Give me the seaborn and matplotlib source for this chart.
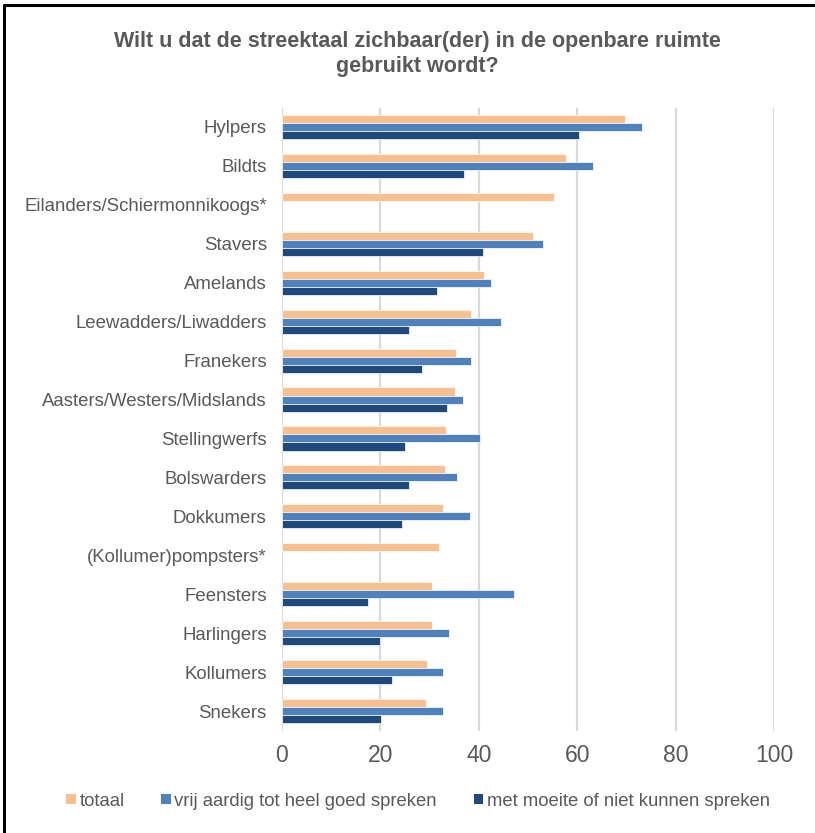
import numpy as np
import pandas as pd
import matplotlib
matplotlib.use("Agg")
import matplotlib.pyplot as plt
from matplotlib.lines import Line2D
from matplotlib.patches import Patch
import seaborn as sns

categories = [
    "Hylpers", "Bildts", "Eilanders/Schiermonnikoogs*", "Stavers", "Amelands",
    "Leewadders/Liwadders", "Franekers", "Aasters/Westers/Midslands",
    "Stellingwerfs", "Bolswarders", "Dokkumers", "(Kollumer)pompsters*",
    "Feensters", "Harlingers", "Kollumers", "Snekers",
]
totaal = [69.8, 57.7, 55.3, 51.0, 41.0, 38.4, 35.4, 35.1, 33.3, 33.1, 32.8, 32.0, 30.5, 30.4, 29.4, 29.2]
goed_spreken = [73.1, 63.3, np.nan, 53.0, 42.5, 44.6, 38.5, 36.7, 40.2, 35.5, 38.3, np.nan, 47.2, 33.9, 32.8, 32.7]
moeite_spreken = [60.4, 36.9, np.nan, 40.9, 31.6, 25.8, 28.5, 33.6, 25.0, 25.9, 24.4, np.nan, 17.4, 20.0, 22.3, 20.1]

series_names = ["totaal", "vrij aardig tot heel goed spreken", "met moeite of niet kunnen spreken"]
series_colors = ["#F9C08F", "#4F81BD", "#1F497D"]
x_ticks = [0, 20, 40, 60, 80, 100]
title = "Wilt u dat de streektaal zichbaar(der) in de openbare ruimte\ngebruikt wordt?"

frames = []
for name, vals in zip(series_names, [totaal, goed_spreken, moeite_spreken]):
    frames.append(pd.DataFrame({"streektaal": categories, "reeks": name, "waarde": vals}))
df = pd.concat(frames, ignore_index=True).dropna()

sns.set_theme(style="white")
plt.rcParams["font.family"] = ["Liberation Sans", "DejaVu Sans"]
text_color = "#595959"

fig = plt.figure(figsize=(8.15, 8.33), dpi=100)
ax = fig.add_axes([282 / 815, 1 - 730.5 / 833, (774 - 282) / 815, (730.5 - 107.5) / 833])

sns.barplot(
    data=df, y="streektaal", x="waarde", hue="reeks",
    order=categories, hue_order=series_names, palette=series_colors,
    orient="h", width=0.62, dodge=True, saturation=1.0,
    edgecolor="white", linewidth=0.5, ax=ax, legend=False,
)

ax.set_xlim(0, 100)
ax.set_ylim(len(categories) - 0.5, -0.5)
ax.set_xticks(x_ticks)
ax.set_xticklabels([str(t) for t in x_ticks])
ax.set_xlabel("")
ax.set_ylabel("")
for s in ax.spines.values():
    s.set_visible(False)
ax.grid(False)
for t in x_ticks:
    ax.axvline(t, color="#D9D9D9", lw=1.6, zorder=0)
ax.set_axisbelow(True)
ax.tick_params(axis="x", length=0, pad=10, labelsize=16.5, labelcolor=text_color)
ax.tick_params(axis="y", length=0, pad=11, labelsize=13.4, labelcolor=text_color)

fig.text(417 / 815, 1 - 54 / 833, title, ha="center", va="center",
         fontsize=15.5, fontweight="bold", color=text_color, linespacing=1.2)

handles = [Patch(facecolor=c, edgecolor="none") for c in series_colors]
fig.legend(handles, series_names, loc="center", bbox_to_anchor=(418 / 815, 1 - 801 / 833),
           ncol=3, frameon=False, fontsize=13.3, labelcolor=text_color,
           handlelength=0.5, handleheight=0.5, handletextpad=0.2, columnspacing=2.0)

# thin black frame along the top and left edge
fig.add_artist(Line2D([4 / 815, 1.0], [1 - 5 / 833, 1 - 5 / 833], color="black", lw=2.2,
                      transform=fig.transFigure))
fig.add_artist(Line2D([4 / 815, 4 / 815], [0.0, 1 - 5 / 833], color="black", lw=2.2,
                      transform=fig.transFigure))

fig.savefig("out.png", dpi=100)
